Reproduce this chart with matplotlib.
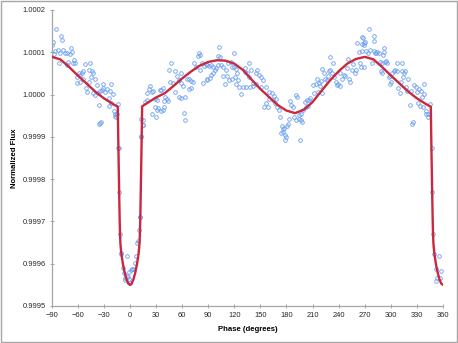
import numpy as np
import matplotlib
matplotlib.use('Agg')
import matplotlib.pyplot as plt
from matplotlib.patches import Rectangle

# Model light curve (phase in degrees, flux offset in ppm)
model_phase = [-90, -80, -70, -60, -50, -40, -30, -20, -14,
               -13.5, -13, -12.5, -12, -11.5, -11, -10, -8, -6, -4, -2, 0,
               2, 4, 6, 8, 10, 11, 11.5, 12, 12.5, 13, 13.5,
               14, 20, 30, 40, 50, 60, 70, 80, 90, 100, 110, 120, 130,
               140, 150, 160, 170, 180, 190, 200, 210, 220, 230, 240, 250,
               260, 270, 280, 290, 300, 310, 320, 330, 340, 346,
               346.5, 347, 347.5, 348, 348.5, 349, 350, 352, 354, 356, 358, 360]
model_ppm = [89, 83, 65, 45, 26, 7, -9, -22, -29,
             -100, -160, -220, -280, -325, -352, -375, -402, -422, -437, -447, -450,
             -447, -437, -422, -402, -375, -352, -325, -280, -220, -160, -100,
             -28, -20, -7, 3, 20, 38, 54, 68, 77, 81, 80, 73, 58,
             35, 13, -6, -25, -38, -44, -36, -18, 8, 33, 55, 73,
             84, 89, 83, 65, 45, 26, 7, -9, -22, -29,
             -100, -160, -220, -280, -325, -352, -375, -402, -422, -437, -447, -450]

# Observed points (phase in degrees, flux offset in ppm)
obs_phase = [
    -85.0, -79.7, -78.2, -88.9, -82.8, -86.6, -80.5, -76.6, -74.3, -72.0,
    -68.2, -66.7, -69.0, -64.4, -65.9, -62.8, -71.3, -72.8, -81.2, -51.7,
    -46.0, -53.6, -55.6, -57.5, -59.0, -61.3, -60.5, -57.5, -53.6, -46.7,
    -43.7, -42.2, -44.5, -50.6, -49.0, -46.7, -39.9, -38.3, -34.5, -42.9,
    -39.9, -36.8, -32.6, -30.7, -31.4, -28.4, -26.1, -23.0, -23.8, -19.9,
    -21.5, -22.2, -36.0, -24.5, -18.4, -17.6, -16.1, -13.8, -14.6, -16.9,
    -33.7, -35.2, -13.4, -34.5, -89.5, -87.5,
    # egress and first hump
    78.9, 78.2, 80.1, 47.5, 44.4, 51.3, 73.6, 75.9, 82.7, 85.0,
    80.1, 88.1, 59.0, 54.4, 46.0, 49.8, 56.0, 58.2, 60.5, 65.1,
    67.4, 70.5, 72.8, 68.2, 69.7, 84.3, 88.9, 23.0, 21.5, 19.2,
    25.3, 26.8, 36.0, 37.5, 34.5, 31.4, 28.3, 17.6, 19.9, 40.6,
    42.1, 43.7, 39.1, 51.3, 56.0, 59.0, 63.6, 62.1, 63.6, 29.1,
    31.4, 35.2, 37.5, 39.1, 32.2, 25.3, 29.9, 13.0, 15.3, 14.6,
    12.3, 12.3, 15.3,
    # second half of first hump, secondary minimum
    101.9, 101.2, 103.4, 119.5, 87.4, 90.4, 92.7, 95.8, 97.3, 98.9,
    101.2, 105.0, 107.3, 110.4, 112.6, 115.7, 117.2, 119.5, 121.8, 95.0,
    92.7, 88.9, 92.0, 106.5, 108.8, 111.9, 114.2, 117.2, 120.3, 122.6,
    124.1, 121.8, 125.7, 128.0, 129.5, 131.8, 132.6, 137.2, 139.5, 134.9,
    137.2, 141.0, 144.8, 146.4, 147.9, 150.2, 152.5, 144.8, 141.8, 137.9,
    133.3, 151.0, 156.3, 160.2, 163.2, 165.5, 167.8, 166.3, 164.0, 159.4,
    156.3, 154.0, 158.6, 169.3, 170.9, 172.4, 174.7, 176.2, 177.8, 179.3,
    173.9, 175.5,
    # second hump
    177.0, 180.1, 181.6, 178.5, 182.4, 183.9, 185.4, 187.0, 190.8, 192.3,
    188.5, 190.8, 194.6, 196.2, 197.7, 193.9, 196.2, 199.2, 202.3, 204.6,
    206.1, 203.1, 200.8, 207.6, 195.4, 210.0, 211.5, 213.8, 215.3, 217.6,
    216.8, 220.7, 218.4, 219.9, 220.7, 223.0, 224.5, 226.8, 227.6, 229.1,
    230.6, 233.7, 229.9, 232.9, 235.2, 237.5, 238.3, 239.8, 241.4, 243.7,
    242.1, 246.0, 247.5, 249.8, 251.3, 252.1, 253.6, 255.2, 256.7, 259.0,
    260.5, 261.3, 263.6, 266.6, 267.4, 268.9, 265.1, 265.9,
    # descent into primary eclipse
    275.1, 280.5, 281.2, 268.2, 267.4, 269.7, 270.5, 272.0, 276.6, 280.5,
    282.7, 284.3, 286.6, 291.2, 292.7, 292.0, 282.0, 274.3, 278.2, 269.7,
    288.1, 289.6, 293.5, 295.0, 295.8, 307.3, 313.4, 288.9, 290.4, 303.4,
    305.0, 307.3, 313.4, 316.5, 315.7, 298.1, 299.6, 301.9, 300.4, 298.8,
    311.9, 314.2, 320.3, 308.8, 310.3, 318.0, 318.8, 323.4, 326.4, 328.7,
    330.3, 332.6, 334.9, 337.9, 338.7, 335.6, 322.6, 324.1, 325.7, 331.0,
    334.1, 337.2, 340.2, 341.0, 343.3, 342.5, 345.6, 347.1,
    # primary eclipse
    -12.6, -12.3, -11.5, -10.0, -3.8, -8.4, -6.9, -5.4, -6.1, -3.8,
    -2.3, -0.8, 0.8, 2.3, 3.8, 0.0, -1.5, 5.4, 6.9, 8.4,
    9.2, 10.0, 11.5, 11.5, -10.7,
    347.7, 348.3, 350.2, 355.5, 351.7, 357.8, 353.2, 356.3, 352.5,
]
obs_ppm = [
    154, 139, 129, 124, 105, 104, 97, 105, 97, 99,
    111, 101, 95, 82, 75, 74, 78, 69, 74, 72,
    75, 56, 52, 46, 50, 42, 28, 30, 36, 58,
    56, 50, 42, 15, 7, 30, 36, 22, 8, 3,
    -1, 4, 11, 26, 15, 7, 12, 9, -9, 1,
    24, -19, -25, -27, -38, -45, -53, -23, -46, -51,
    -64, -70, -126, -68, 118, 96,
    # egress and first hump
    99, 91, 93, 75, 58, 56, 74, 66, 74, 67,
    58, 70, 52, 44, 30, 28, 34, 28, 19, 36,
    37, 33, 30, 12, 15, 28, 34, 20, 14, 4,
    7, 8, 11, 15, 11, -13, -11, -17, -13, -5,
    -11, -15, -15, 7, -5, -9, -5, -43, -60, -29,
    -37, -38, -37, -29, -33, -46, -52, -58, -60, -73,
    -100, -98, -72,
    # second half of first hump, secondary minimum
    113, 91, 89, 99, 72, 67, 69, 66, 59, 63,
    69, 69, 66, 59, 74, 77, 66, 66, 61, 50,
    47, 36, 38, 44, 26, 44, 34, 36, 42, 50,
    34, 26, 18, 1, 17, 53, 63, 74, 58, 50,
    42, 28, 52, 59, 45, 42, 34, 26, 20, 18,
    18, 18, 18, 7, 3, -3, -11, -19, -13, -11,
    -21, -29, -29, -29, -37, -54, -75, -82, -108, -100,
    -92, -88,
    # second hump
    -80, -75, -70, -96, -57, -15, -25, -30, -1, -7,
    -53, -60, -57, -60, -64, -49, -46, -37, -30, -27,
    -13, -13, -17, -9, -108, 22, 4, 26, 36, 28,
    7, 3, 20, 33, 61, 50, 37, 34, 44, 56,
    58, 75, 88, 50, 42, 30, 22, 25, 19, 37,
    50, 46, 44, 62, 83, 36, 30, 59, 72, 50,
    59, 121, 100, 104, 137, 117, 74, 66,
    # descent into primary eclipse
    154, 138, 127, 133, 119, 121, 124, 104, 105, 104,
    99, 100, 97, 94, 110, 100, 97, 97, 74, 66,
    78, 75, 78, 80, 74, 74, 75, 56, 50, 56,
    59, 56, 56, 56, 50, 42, 44, 50, 30, 26,
    30, 42, 36, 15, 4, 18, 9, 9, 22, 18,
    7, 12, 9, 24, 1, -5, -25, -70, -65, -21,
    -27, -30, -38, -45, -46, -52, -23, -127,
    # primary eclipse
    -127, -230, -330, -377, -382, -411, -421, -435, -439, -429,
    -431, -419, -415, -412, -413, -445, -437, -398, -382, -350,
    -346, -320, -290, -290, -375,
    -230, -330, -377, -382, -413, -418, -435, -435, -441,
]

x_ticks = np.arange(-90, 361, 30)
y_ticks = [0.9995, 0.9996, 0.9997, 0.9998, 0.9999, 1.0000, 1.0001, 1.0002]


def plotLightCurve():
    '''
    Plot observed flux points and the model light curve vs phase
    '''
    axis_col = '#a6a6a6'
    obs_flux = 1 + np.array(obs_ppm) * 1e-6
    model_flux = 1 + np.array(model_ppm) * 1e-6

    fig = plt.figure(figsize=(4.58, 3.43), dpi=100)
    ax = fig.add_axes([0.1129, 0.1079, 0.8543, 0.8632])

    ax.plot(obs_phase, obs_flux, 'o', markersize=2.6, markerfacecolor='none',
            markeredgecolor='#6a9ef0', markeredgewidth=0.6, zorder=2)
    ax.plot(model_phase, model_flux, color='#c9283e', linewidth=1.7,
            solid_joinstyle='round', zorder=3)

    ax.set_xlim(-90, 360)
    ax.set_ylim(0.9995, 1.0002)
    ax.set_xticks(x_ticks)
    ax.set_yticks(y_ticks)
    ax.set_yticklabels(['%.4f' % v for v in y_ticks])

    for side in ['top', 'right']:
        ax.spines[side].set_visible(False)
    for side in ['left', 'bottom']:
        ax.spines[side].set_color(axis_col)
        ax.spines[side].set_linewidth(0.9)
    ax.tick_params(direction='inout', length=3.5, width=0.7, color=axis_col,
                   labelsize=5.4, pad=2.5, labelcolor='#262626')

    ax.set_xlabel('Phase (degrees)', fontsize=5.6, fontweight='bold',
                  labelpad=5)
    ax.set_ylabel('Normalized Flux', fontsize=5.6, fontweight='bold',
                  labelpad=3)

    # chart area border
    fig.patches.append(Rectangle((0.002, 0.003), 0.995, 0.993,
                                 transform=fig.transFigure, fill=False,
                                 edgecolor='#a6a6a6', linewidth=1.0))

    fig.savefig('out.png', dpi=100)


plt.rcParams['font.family'] = ['Liberation Sans', 'DejaVu Sans']
plotLightCurve()
